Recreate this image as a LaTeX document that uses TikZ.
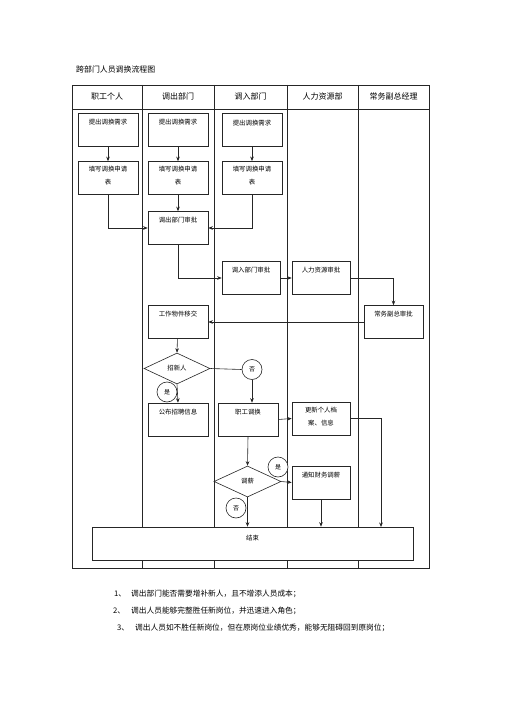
\documentclass[tikz,border=0pt]{standalone}
\usepackage{fontspec}
\setmainfont{Noto Sans CJK SC}
\newfontfamily\cjk{Noto Sans CJK SC}
\usetikzlibrary{shapes.geometric,arrows.meta}
\begin{document}
\begin{tikzpicture}[x=1pt,y=-1pt,
  ln/.style={draw=black!85,line width=0.6pt},
  box/.style={ln,rectangle,minimum width=60pt,minimum height=33pt,inner sep=0pt,fill=white},
  thickbox/.style={box,line width=0.9pt},
  dia/.style={ln,diamond,aspect=2.1,minimum width=66pt,minimum height=31pt,inner sep=0pt,fill=white,font=\cjk\fontsize{6.4}{8}\selectfont},
  circ/.style={ln,circle,minimum size=20pt,inner sep=0pt,fill=white,font=\cjk\fontsize{6}{8}\selectfont},
  txt/.style={font=\cjk\fontsize{6.4}{13}\selectfont,align=center,anchor=north,inner sep=0pt},
  hdr/.style={font=\cjk\fontsize{8}{10}\selectfont,inner sep=0pt},
  note/.style={font=\cjk\fontsize{7.7}{10}\selectfont,anchor=west,inner sep=0pt},
  arr/.style={ln,-{Stealth[length=4.5pt,width=3.6pt]}},
  con/.style={ln}]
\useasboundingbox (0,0) rectangle (505,714);
\fill[white] (0,0) rectangle (505,714);
% title
\node[font=\cjk\fontsize{7.9}{10}\selectfont,anchor=west,inner sep=0pt] (title) at (76,69) {跨部门人员调换流程图};
% lanes
\draw[ln] (72,85) rectangle (429,568);
\draw[ln] (72,109) -- (429,109);
\foreach \x in {142,214,287,358} \draw[ln] (\x,85) -- (\x,568);
\node[hdr] (h1) at (107,96) {职工个人};
\node[hdr] (h2) at (178,96) {调出部门};
\node[hdr] (h3) at (250.5,96) {调入部门};
\node[hdr] (h4) at (322.5,96) {人力资源部};
\node[hdr] (h5) at (393.5,96) {常务副总经理};
% boxes
\node[box] (b1) at (108,129.5) {};
\node[box] (b2) at (178,129.5) {};
\node[thickbox] (b3) at (252,129.5) {};
\node[txt] at ([yshift=-6]b1.north) {提出调换需求};
\node[txt] at ([yshift=-6]b2.north) {提出调换需求};
\node[txt] at ([yshift=-7]b3.north) {提出调换需求};
\node[box] (f1) at (108,178) {};
\node[box] (f2) at (178,178) {};
\node[thickbox] (f3) at (252,178) {};
\node[txt] at ([yshift=-5]f1.north) {填写调换申请\\表};
\node[txt] at ([yshift=-5]f2.north) {填写调换申请\\表};
\node[txt] at ([yshift=-5]f3.north) {填写调换申请\\表};
\node[box] (a1) at (178,228) {};
\node[txt] at ([yshift=-6]a1.north) {调出部门审批};
\node[box,minimum width=58pt] (a2) at (251,278) {};
\node[txt] at ([yshift=-6]a2.north) {调入部门审批};
\node[box,minimum width=58pt] (a3) at (321,278) {};
\node[txt] at ([yshift=-6]a3.north) {人力资源审批};
\node[box,minimum width=59pt] (a4) at (393.5,322) {};
\node[txt] at ([yshift=-6]a4.north) {常务副总审批};
\node[box] (w) at (178,322) {};
\node[txt] at ([yshift=-6]w.north) {工作物件移交};
\node[dia] (d1) at (177,368.5) {招新人};
\node[box] (p) at (178,419.5) {};
\node[txt] at ([yshift=-6]p.north) {公布招聘信息};
\node[box] (s) at (248,419.5) {};
\node[txt] at ([yshift=-6]s.north) {职工调换};
\node[box,minimum width=58pt] (u) at (321,418.5) {};
\node[txt] at ([yshift=-5]u.north) {更新个人档\\案、信息};
\node[dia,minimum width=67pt] (d2) at (247.5,481.5) {调薪};
\node[box,minimum width=58pt] (n) at (321,482.5) {};
\node[txt] at ([yshift=-6]n.north) {通知财务调薪};
\node[box,minimum width=321pt] (e) at (252.5,543.5) {};
\node[txt] at ([yshift=-8]e.north) {结束};
% circles
\node[circ] (c1) at (252,369.5) {否};
\node[circ] (c2) at (167,392) {是};
\node[circ] (c3) at (278,467) {是};
\node[circ] (c4) at (236,508) {否};
\coordinate (k) at (381,527);
% connectors
\draw[arr] (b1) -- (f1);
\draw[arr] (b2) -- (f2);
\draw[arr] (b3) -- (f3);
\draw[arr] (f1.south) |- (a1.west);
\draw[arr] (f3.south) |- (a1.east);
\draw[arr] (f2) -- (a1);
\draw[arr] (a1.south) |- (a2.west);
\draw[arr] (a2) -- (a3);
\draw[arr] (a3.east) -| (a4.north);
\draw[arr] (a4.west) -- (w.east);
\draw[arr] (w) -- (d1.north);
\draw[con] (d1.east) -- (c1.west);
\draw[arr] (c1.south) -- (c1.south |- s.north);
\draw[arr] (d1.south) -- (p.north);
\draw[arr] (s.east) -- (u.west);
\draw[arr] (u.east) -| (k);
\draw[arr] (s.south) -- (d2.north);
\draw[arr] (d2.east) -- (n.west);
\draw[arr] (d2.south) -- (d2.south |- e.north);
\draw[arr] (n.south) -- (n.south |- e.north);
% notes
\node[note] (n1a) at (114,594) {1、};
\node[note] (n1) at (131,594) {调出部门能否需要增补新人，且不增添人员成本；};
\node[note] (n2a) at (113,611) {2、};
\node[note] (n2) at (131,611) {调出人员能够完整胜任新岗位，并迅速进入角色；};
\node[note] (n3a) at (117,628) {3、};
\node[note] (n3) at (135,628) {调出人员如不胜任新岗位，但在原岗位业绩优秀，能够无阻碍回到原岗位；};
\end{tikzpicture}
\end{document}
